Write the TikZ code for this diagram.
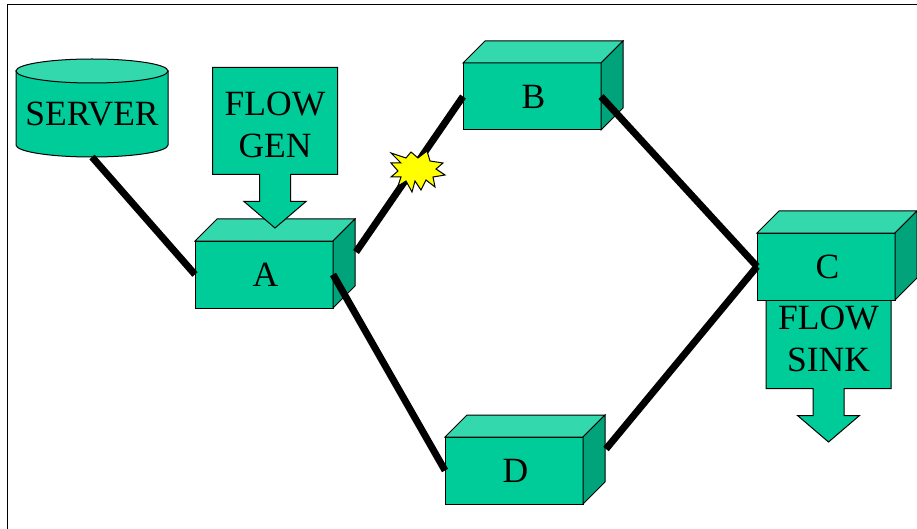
\documentclass[tikz,border=0pt]{standalone}
\usepackage{fontspec}
\setmainfont{Liberation Serif}
\usepackage{tikz}
\definecolor{boxgreen}{HTML}{00CC99}
\definecolor{boxlight}{HTML}{33D9AD}
\definecolor{boxdark}{HTML}{00A37A}
\definecolor{burstyellow}{HTML}{FFFF00}

\tikzset{
    boxfront/.style={draw=black, line width=1pt, fill=boxgreen, minimum width=138pt, minimum height=67pt, inner sep=0pt, outer sep=0pt},
    boxtop/.style={draw=black, line width=1pt, fill=boxlight, line join=miter},
    boxside/.style={draw=black, line width=1pt, fill=boxdark, line join=miter},
    labeltext/.style={align=center, font=\fontsize{35.5}{42}\selectfont},
    link/.style={line width=7pt, black},
}

% box with its top and side faces
\newcommand{\cubebox}[3]{
    \node[boxfront] (#1) at (#2) {};
    \draw[boxtop] (#1.north west) -- ++(22,-22) -- ++(138,0) -- ++(-22,22) -- cycle;
    \draw[boxside] (#1.north east) -- ++(22,-22) -- ++(0,67) -- ++(-22,22) -- cycle;
    \node[labeltext] (#1label) at ([xshift=1.5pt]#1.center) {#3};
}

% panel with a down arrow below it
\newcommand{\flowcallout}[4]{
    \draw[draw=black, line width=1pt, fill=boxgreen, line join=miter] (#2-62.5,#3) -- (#2+62.5,#3) -- (#2+62.5,#3+107) -- (#2+15.5,#3+107) -- (#2+15.5,#3+134) -- (#2+31,#3+134) -- (#2,#3+160.5) -- (#2-31,#3+134) -- (#2-15.5,#3+134) -- (#2-15.5,#3+107) -- (#2-62.5,#3+107) -- cycle;
    \node[labeltext] (#1) at (#2,#3+57.5) {#4};
}

\begin{document}
\begin{tikzpicture}[x=1pt, y=-1pt]
    \useasboundingbox (0,0) rectangle (917,529);

    % Frame
    \draw[black, line width=1pt] (7,529) -- (7,5) -- (917,5);

    % Server
    \draw[boxfront, minimum width=0pt] (16,71) -- (16,145) arc[start angle=180, end angle=360, x radius=76, y radius=-12] -- (168,71) -- cycle;
    \draw[boxtop] (92,71) ellipse[x radius=76, y radius=12];
    \node[labeltext] (server) at (92,114.5) {SERVER};
    \coordinate (serverbase) at (92,157);

    % Sink sits behind C
    \flowcallout{sink}{828.5}{281.5}{FLOW\\SINK}

    % Boxes
    \cubebox{A}{264,274.5}{A}
    \cubebox{B}{532,96.5}{B}
    \cubebox{C}{826,266.5}{C}
    \cubebox{D}{514,470.5}{D}

    % Flow generator
    \flowcallout{gen}{275}{67.5}{FLOW\\GEN}

    % Links
    \coordinate (Aright) at (356,252);
    \coordinate (Dright) at (606,449);
    \draw[link] (serverbase) -- (A.west);
    \draw[link] (Aright) -- (B.west);
    \draw[link] (A.east) -- (D.west);
    \draw[link] (B.east) -- (C.west);
    \draw[link] (Dright) -- (C.west);

    % Burst
    \draw[black, line width=1pt, fill=burstyellow, line join=miter] (391,153) -- (406,158) -- (411,152) -- (418,158) -- (427,151) -- (430,161) -- (443,163) -- (436,169) -- (445,175) -- (433,177) -- (435,187) -- (426,180) -- (421,190) -- (415,181) -- (412,192) -- (406,181) -- (398,186) -- (401,177) -- (391,177) -- (398,171) -- (391,163) -- (401,163) -- cycle;
\end{tikzpicture}
\end{document}
